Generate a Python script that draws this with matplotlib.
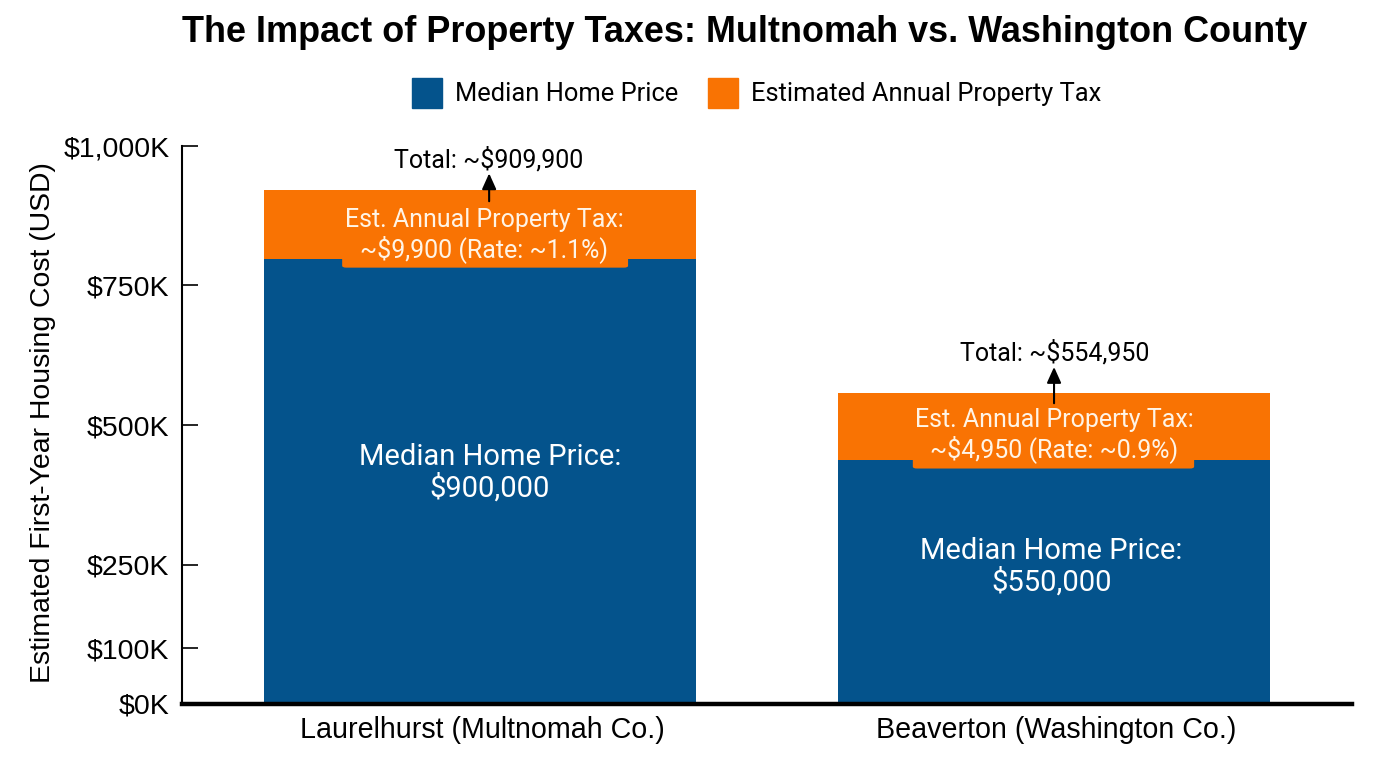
import matplotlib
matplotlib.use("Agg")
import matplotlib.pyplot as plt
from matplotlib.patches import FancyBboxPatch, Patch

plt.rcParams['font.family'] = ['Roboto', 'DejaVu Sans']

# values (in $K), they don't line up exactly with the printed labels
categories = ["Laurelhurst (Multnomah Co.)", "Beaverton (Washington Co.)"]
home_price = [797, 437]
property_tax = [124, 120]
totals_text = ["Total: ~$909,900", "Total: ~$554,950"]
home_text = ["Median Home Price:\n$900,000", "Median Home Price:\n$550,000"]
tax_text = ["Est. Annual Property Tax:\n~$9,900 (Rate: ~1.1%)", "Est. Annual Property Tax:\n~$4,950 (Rate: ~0.9%)"]
tick_vals = [0, 100, 250, 500, 750, 1000]
tick_labels = ["$0K", "$100K", "$250K", "$500K", "$750K", "$1,000K"]

BLUE = "#04538c"
ORANGE = "#f97303"
SANS = ['Liberation Sans', 'DejaVu Sans']

fig = plt.figure(figsize=(13.76, 7.68), dpi=100)
ax = fig.add_axes([182 / 1376, 1 - 704 / 768, (1352 - 182) / 1376, (704 - 146) / 768])

x = [0, 1]
width = 0.7526
ax.bar(x, home_price, width, color=BLUE, label="Median Home Price")
ax.bar(x, property_tax, width, bottom=home_price, color=ORANGE, label="Estimated Annual Property Tax")

ax.set_xlim(-0.519, 1.519)
ax.set_ylim(0, 1000)
ax.set_xticks([i + 0.004 for i in x])
ax.set_xticklabels(categories, fontsize=20.6, color="black", family=SANS)
ax.set_yticks(tick_vals)
ax.set_yticklabels(tick_labels, fontsize=20.5, color="black", family=SANS)
ax.tick_params(axis="x", length=0, pad=8.5)
ax.tick_params(axis="y", direction="in", length=11.5, width=1.2, pad=9)
ax.set_ylabel("Estimated First-Year Housing Cost (USD)", fontsize=20.4, color="black", family=SANS)
ax.yaxis.set_label_coords(-0.108, 0.5036)

for side in ["top", "right"]:
    ax.spines[side].set_visible(False)
ax.spines["left"].set_linewidth(1.5)
ax.spines["bottom"].set_linewidth(3.2)

# hand placed offsets for each bar, the labels in the picture aren't quite centred
tab_centre = [0.009, -0.001]
tab_half = [0.249, 0.245]
home_dx = [0.017, -0.005]
home_dy = [16, 27]
tax_dx = [0.007, 0.0]
tax_dy = [-20, -16]
total_dx = [0.015, 0.001]
total_dy = [54, 73]
arrow_dx = [0.016, 0.0]
arrow_tip = [30, 47]
arrow_tail = [-20, -18]

for i in x:
    top = home_price[i] + property_tax[i]
    # small orange tab hanging under the tax label
    ax.add_patch(FancyBboxPatch((i + tab_centre[i] - tab_half[i], home_price[i] - 15), 2 * tab_half[i], 22,
                                boxstyle="round,pad=0,rounding_size=0.007", mutation_aspect=500,
                                facecolor=ORANGE, edgecolor="none", zorder=3))
    ax.text(i + home_dx[i], home_price[i] / 2 + home_dy[i], home_text[i], ha="center", va="center",
            fontsize=21, color="white", linespacing=1.1, zorder=4)
    ax.text(i + tax_dx[i], home_price[i] + property_tax[i] / 2 + tax_dy[i], tax_text[i], ha="center", va="center",
            fontsize=18, color="#fff4e6", linespacing=1.15, zorder=4)
    ax.annotate("", xy=(i + arrow_dx[i], top + arrow_tip[i]), xytext=(i + arrow_dx[i], top + arrow_tail[i]),
                arrowprops=dict(arrowstyle="-|>,head_length=0.8,head_width=0.36", color="black", lw=1.5,
                                mutation_scale=12, shrinkA=0, shrinkB=0), zorder=4)
    ax.text(i + total_dx[i], top + total_dy[i], totals_text[i], ha="center", va="center", fontsize=18, color="black")

fig.text(745 / 1376, 1 - 33 / 768, "The Impact of Property Taxes: Multnomah vs. Washington County",
         ha="center", va="center", fontsize=25.9, fontweight="bold", color="black", family=SANS)

handles = [Patch(color=BLUE), Patch(color=ORANGE)]
fig.legend(handles, ["Median Home Price", "Estimated Annual Property Tax"], loc="center",
           bbox_to_anchor=(756.5 / 1376, 1 - 93 / 768), ncol=2, frameon=False, fontsize=18.4,
           handlelength=1.17, handleheight=1.42, handletextpad=0.5, columnspacing=1.17,
           labelcolor="black")

fig.savefig("out.png", dpi=100)
